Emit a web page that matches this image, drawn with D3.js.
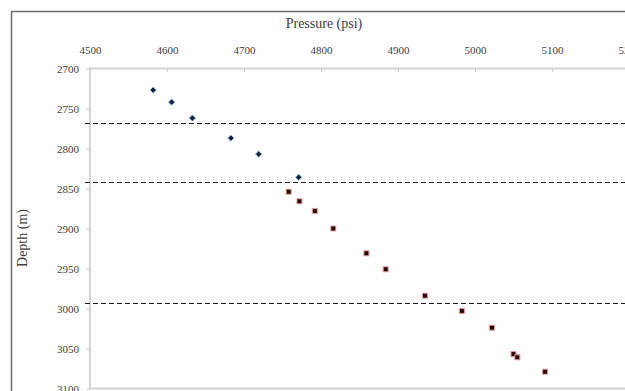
<!DOCTYPE html>
<html><head><meta charset="utf-8">
<script src="https://cdn.jsdelivr.net/npm/d3@7"></script>
<style>body{margin:0;background:#fff;}svg{display:block;}</style>
</head><body>
<script>
const xTicks = [4500,4600,4700,4800,4900,5000,5100,5200];
const yTicks = [2700,2750,2800,2850,2900,2950,3000,3050,3100];
const bluePressure = [4582,4606,4633,4683,4719,4771];
const blueDepth    = [2727,2742,2762,2787,2807,2836];
const redPressure  = [4758,4772,4792,4816,4859,4884,4935,4983,5022,5050,5055,5091];
const redDepth     = [2854,2866,2878,2900,2931,2951,2984,3003,3024,3057,3061,3079];
const dashDepths   = [2768.5,2842,2993.5];

const W=625,H=391;
const svg=d3.select("body").append("svg").attr("width",W).attr("height",H);
const x=d3.scaleLinear().domain([4500,5200]).range([90,629]);
const y=d3.scaleLinear().domain([2700,3100]).range([68.5,388.5]);
const font="'Liberation Serif', 'DejaVu Serif', serif";

svg.append("rect").attr("x",11.5).attr("y",11.5).attr("width",W).attr("height",H)
  .attr("fill","none").attr("stroke","#6e6e6e").attr("stroke-width",1.5);

// axes
const axisCol="#d4d4d4";
const xa=svg.append("g").attr("transform",`translate(0,${y(2700)})`)
  .call(d3.axisTop(x).tickValues(xTicks).tickSize(-3).tickPadding(0).tickFormat(d3.format("d")));
const ya=svg.append("g").attr("transform",`translate(${x(4500)},0)`)
  .call(d3.axisLeft(y).tickValues(yTicks).tickSize(3).tickPadding(0).tickFormat(d3.format("d")));
[xa,ya].forEach(a=>{
  a.select(".domain").remove();
  a.selectAll(".tick line").attr("stroke","#bfbfbf");
  a.selectAll(".tick text").attr("font-family",font).attr("font-size",11).attr("fill","#404040");
});
xa.selectAll(".tick text").attr("y",-15);
ya.selectAll(".tick text").attr("x",-11).attr("dy","0.35em");

svg.append("line").attr("x1",x(4500)).attr("x2",W).attr("y1",y(2700)).attr("y2",y(2700))
  .attr("stroke",axisCol).attr("stroke-width",2);
svg.append("line").attr("x1",x(4500)).attr("x2",x(4500)).attr("y1",y(2700)-1).attr("y2",y(3100))
  .attr("stroke",axisCol).attr("stroke-width",2);
svg.append("line").attr("x1",x(4500)).attr("x2",W).attr("y1",y(3100)).attr("y2",y(3100))
  .attr("stroke",axisCol).attr("stroke-width",2);

// dashed lines
svg.selectAll("line.dash").data(dashDepths).enter().append("line").attr("class","dash")
  .attr("x1",85).attr("x2",W).attr("y1",d=>Math.round(y(d))+0.5).attr("y2",d=>Math.round(y(d))+0.5)
  .attr("stroke","#1a1a1a").attr("stroke-width",1.2).attr("stroke-dasharray","5,3");

// blue diamonds
const blue=bluePressure.map((p,i)=>({p,d:blueDepth[i]}));
svg.selectAll("path.blue").data(blue).enter().append("path").attr("class","blue")
  .attr("d",d3.symbol().type(d3.symbolDiamond2).size(26))
  .attr("transform",d=>`translate(${x(d.p)},${y(d.d)})`)
  .attr("fill","#10203f").attr("stroke","#9db8db").attr("stroke-width",1);

// red squares
const red=redPressure.map((p,i)=>({p,d:redDepth[i]}));
svg.selectAll("rect.red").data(red).enter().append("rect").attr("class","red")
  .attr("x",d=>x(d.p)-2.5).attr("y",d=>y(d.d)-2.5).attr("width",5).attr("height",5)
  .attr("fill","#2a0000").attr("stroke","#e0a0a0").attr("stroke-width",1);

// titles
svg.append("text").attr("x",324).attr("y",28).attr("text-anchor","middle")
  .attr("font-family",font).attr("font-size",14).attr("fill","#404040").text("Pressure (psi)");
svg.append("text").attr("transform","translate(27,238) rotate(-90)").attr("text-anchor","middle")
  .attr("font-family",font).attr("font-size",14).attr("fill","#404040").text("Depth (m)");
</script>
</body></html>
